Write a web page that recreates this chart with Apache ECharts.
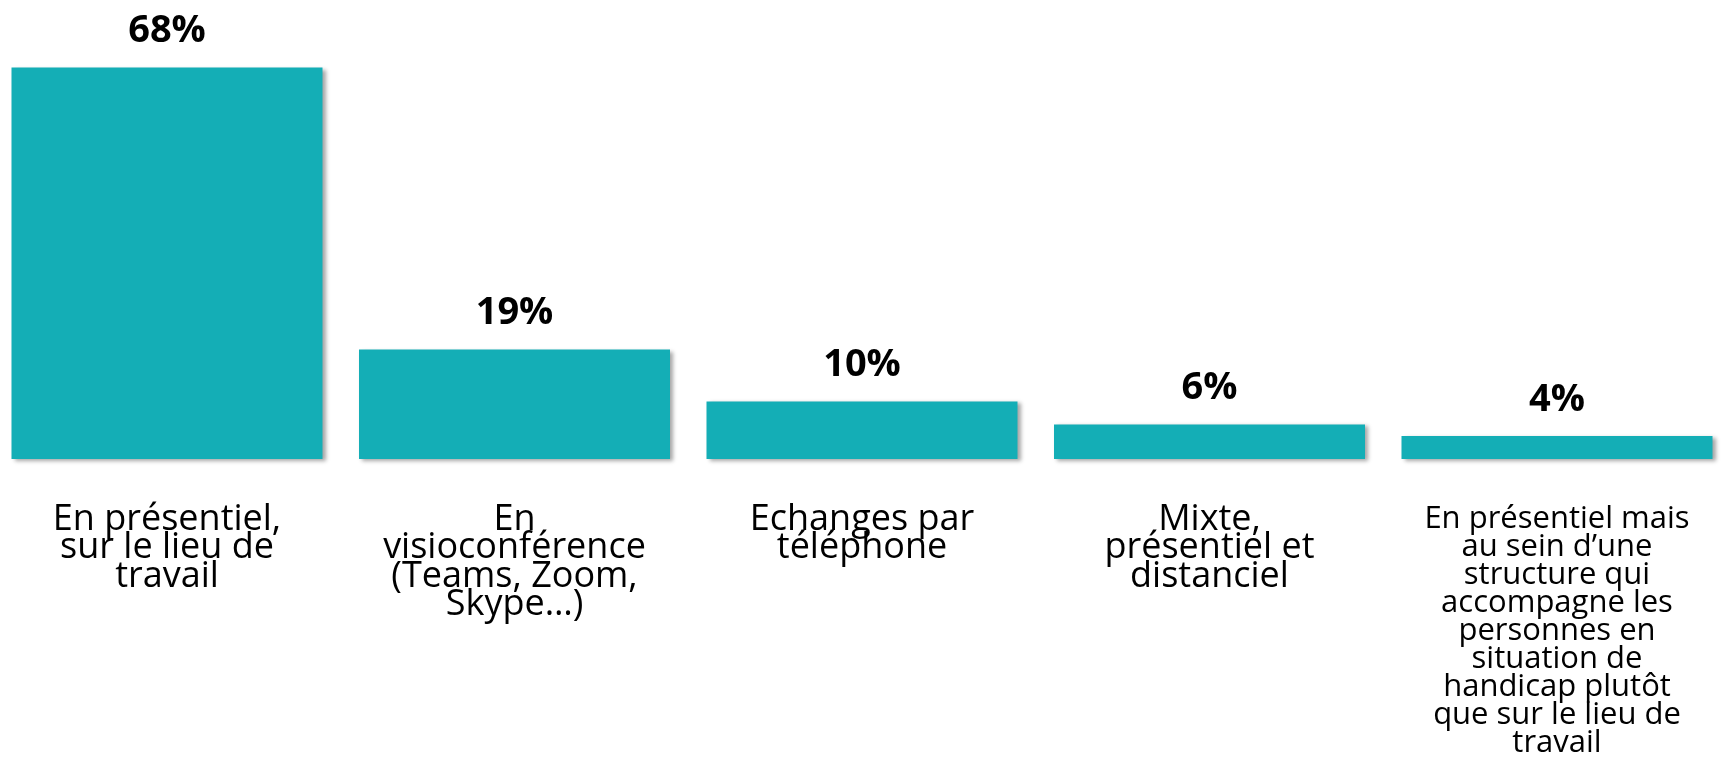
<!DOCTYPE html>
<html>
<head>
<meta charset="utf-8">
<script src="https://cdn.jsdelivr.net/npm/echarts@6/dist/echarts.min.js"></script>
<style>
  html, body { margin: 0; padding: 0; background: #fff; }
  #chart { width: 1721px; height: 763px; }
</style>
</head>
<body>
<div id="chart"></div>
<script>
// categories (line breaks as in the original slide)
const categories = [
  'En présentiel,\nsur le lieu de\ntravail',
  'En\nvisioconférence\n(Teams, Zoom,\nSkype…)',
  'Echanges par\ntéléphone',
  'Mixte,\nprésentiel et\ndistanciel',
  'En présentiel mais\nau sein d’une\nstructure qui\naccompagne les\npersonnes en\nsituation de\nhandicap plutôt\nque sur le lieu de\ntravail'
];
const values = [68, 19, 10, 6, 4];

const myChart = echarts.init(document.getElementById('chart'));

const option = {
  animation: false,
  grid: {
    top: 56,
    bottom: 304,
    // bar centres sit on the grid edges (boundaryGap false)
    left: 167,
    right: 164,
    containLabel: false
  },
  xAxis: {
    type: 'category',
    boundaryGap: false,
    data: categories.map((c, i) => {
      // last label is set smaller in the original
      if (i === categories.length - 1) {
        return { value: c, textStyle: { fontSize: 31, lineHeight: 28 } };
      }
      return c;
    }),
    axisLine: { show: false },
    axisTick: { show: false },
    axisLabel: {
      interval: 0,
      margin: 46,
      color: '#000',
      fontFamily: 'Open Sans',
      fontSize: 36,
      lineHeight: 28.5,
      verticalAlign: 'top'
    }
  },
  yAxis: {
    type: 'value',
    min: 0,
    max: 70,
    show: false,
    splitLine: { show: false }
  },
  series: [
    {
      type: 'bar',
      data: values,
      barWidth: 311,
      itemStyle: {
        color: '#14AEB6',
        shadowColor: 'rgba(0,0,0,0.35)',
        shadowBlur: 4,
        shadowOffsetX: 3,
        shadowOffsetY: 2
      },
      label: {
        show: true,
        position: 'top',
        distance: 17,
        formatter: '{c}%',
        color: '#000',
        fontFamily: 'Open Sans',
        fontWeight: 'bold',
        fontSize: 38
      }
    }
  ]
};

myChart.setOption(option);
window.addEventListener('resize', function () {
  myChart.resize();
});
</script>
</body>
</html>
